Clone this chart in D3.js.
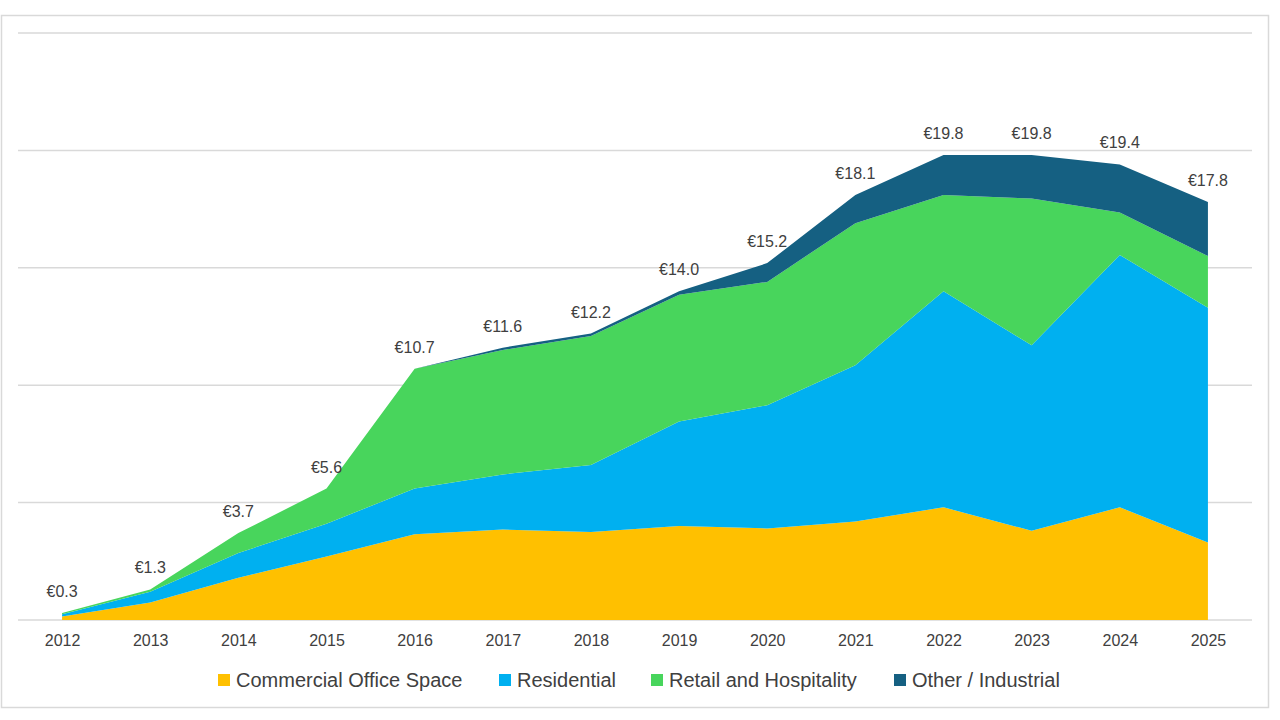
<!DOCTYPE html>
<html>
  <head>
    <meta charset="utf-8">
    <title>investment by sector</title>
    <script src="https://d3js.org/d3.v7.min.js" charset="utf-8"></script>
    <style>
      body { margin: 0; background: #fff; }
      text { font-family: "Liberation Sans", Arial, sans-serif; fill: #404040; }
    </style>
  </head>

  <body>
    <script type="text/javascript">

      //Data (EUR billions)
      var years = ["2012", "2013", "2014", "2015", "2016", "2017", "2018",
                   "2019", "2020", "2021", "2022", "2023", "2024", "2025"];
      var seriesNames = ["Commercial Office Space", "Residential",
                         "Retail and Hospitality", "Other / Industrial"];
      var commercial  = [0.15, 0.75, 1.8, 2.7, 3.65, 3.85, 3.75, 4.0, 3.9, 4.2, 4.8, 3.8, 4.8, 3.3];
      var residential = [0.1, 0.45, 1.05, 1.4, 1.95, 2.35, 2.85, 4.45, 5.25, 6.65, 9.2, 7.9, 10.75, 10.0];
      var retail      = [0.05, 0.1, 0.85, 1.5, 5.1, 5.3, 5.5, 5.4, 5.25, 6.05, 4.1, 6.25, 1.8, 2.2];
      var other       = [0, 0, 0, 0, 0, 0.1, 0.1, 0.15, 0.8, 1.2, 1.7, 1.85, 2.05, 2.3];
      var yTicks = [0, 5, 10, 15, 20, 25];

      var colors = ["#FFC000", "#00B0F0", "#48D55C", "#156082"];

      //Width and height
      var w = 1280;
      var h = 720;
      var plotLeft = 18, plotRight = 1252, plotTop = 33, plotBottom = 620;

      //Build rows for the stack
      var rows = years.map(function(y, i) {
        var r = { year: y };
        r[seriesNames[0]] = commercial[i];
        r[seriesNames[1]] = residential[i];
        r[seriesNames[2]] = retail[i];
        r[seriesNames[3]] = other[i];
        return r;
      });

      var stacked = d3.stack().keys(seriesNames)(rows);

      //Scales
      var xScale = d3.scalePoint()
                     .domain(years)
                     .range([plotLeft, plotRight])
                     .padding(0.5);

      var yScale = d3.scaleLinear()
                     .domain([0, 25])
                     .range([plotBottom, plotTop]);

      //SVG
      var svg = d3.select("body")
                  .append("svg")
                  .attr("width", w)
                  .attr("height", h);

      //Frame
      svg.append("rect")
         .attr("x", 1.5)
         .attr("y", 15.5)
         .attr("width", 1267)
         .attr("height", 692)
         .attr("fill", "#fff")
         .attr("stroke", "#d9d9d9")
         .attr("stroke-width", 1.5);

      //Gridlines
      svg.selectAll("line.grid")
         .data(yTicks)
         .enter()
         .append("line")
         .attr("class", "grid")
         .attr("x1", plotLeft)
         .attr("x2", plotRight)
         .attr("y1", function(d) { return yScale(d); })
         .attr("y2", function(d) { return yScale(d); })
         .attr("stroke", "#d9d9d9")
         .attr("stroke-width", 1.5);

      //Areas
      var area = d3.area()
                   .x(function(d) { return xScale(d.data.year); })
                   .y0(function(d) { return yScale(d[0]); })
                   .y1(function(d) { return yScale(d[1]); });

      svg.selectAll("path.layer")
         .data(stacked)
         .enter()
         .append("path")
         .attr("class", "layer")
         .attr("d", area)
         .attr("fill", function(d, i) { return colors[i]; });

      //Total labels
      var topLayer = stacked[stacked.length - 1];
      svg.selectAll("text.total")
         .data(topLayer)
         .enter()
         .append("text")
         .attr("class", "total")
         .attr("text-anchor", "middle")
         .attr("x", function(d) { return xScale(d.data.year); })
         .attr("y", function(d) { return yScale(d[1]) - 16; })
         .attr("font-size", "16px")
         .text(function(d) { return "€" + d[1].toFixed(1); });

      //X axis labels
      var xAxis = d3.axisBottom(xScale).tickSize(0).tickPadding(15);
      var gx = svg.append("g")
                  .attr("transform", "translate(0," + plotBottom + ")")
                  .call(xAxis);
      gx.select(".domain").remove();
      gx.selectAll("text")
        .attr("font-size", "16px")
        .attr("fill", "#404040")
        .style("font-family", "'Liberation Sans', Arial, sans-serif");

      //Legend
      var legendX = [218, 499, 651, 894];
      var legend = svg.selectAll("g.legend")
                      .data(seriesNames)
                      .enter()
                      .append("g")
                      .attr("class", "legend")
                      .attr("transform", function(d, i) {
                        return "translate(" + legendX[i] + ",680)";
                      });

      legend.append("rect")
            .attr("x", 0)
            .attr("y", -6)
            .attr("width", 12)
            .attr("height", 12)
            .attr("fill", function(d, i) { return colors[i]; });

      legend.append("text")
            .attr("x", 18)
            .attr("y", 7)
            .attr("font-size", "20px")
            .text(function(d) { return d; });

    </script>
  </body>
</html>
